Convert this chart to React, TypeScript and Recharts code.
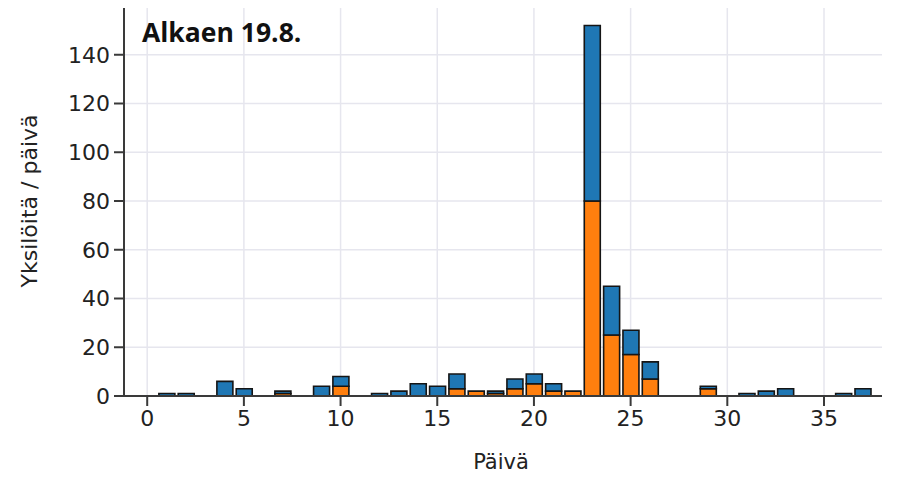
import { Bar, BarChart, CartesianGrid, XAxis, YAxis } from 'recharts';

// Days since the start date and the two stacked counts per day.
const days = [
  1, 2, 4, 5, 7, 9, 10, 12, 13, 14, 15, 16, 17, 18, 19, 20, 21, 22, 23, 24, 25,
  26, 29, 31, 32, 33, 36, 37,
];
const orangeCounts = [
  0, 0, 0, 0, 1, 0, 4, 0, 0, 0, 0, 3, 2, 1, 3, 5, 2, 2, 80, 25, 17, 7, 3, 0,
  0, 0, 0, 0,
];
const blueCounts = [
  1, 1, 6, 3, 1, 4, 4, 1, 2, 5, 4, 6, 0, 1, 4, 4, 3, 0, 72, 20, 10, 7, 1, 1,
  2, 3, 1, 3,
];
const xTicks = [0, 5, 10, 15, 20, 25, 30, 35];
const yTicks = [0, 20, 40, 60, 80, 100, 120, 140];
const xDomain: [number, number] = [-1.2, 38];
const yDomain: [number, number] = [0, 160];

const chartData = days.map((day, i) => ({
  day,
  orange: orangeCounts[i],
  blue: blueCounts[i],
}));

const font = 'DejaVu Sans, sans-serif';
const tickStyle = { fill: '#222', fontSize: 22, fontFamily: font };
const spine = { stroke: '#3a3a3a', strokeWidth: 2 };

type Box = { x: number; y: number; width: number; height: number };

// grid lines only at the tick values (the default grid adds one at the right edge)
function gridX({ offset }: any) {
  const [d0, d1] = xDomain;
  return xTicks.map(t => offset.left + ((t - d0) / (d1 - d0)) * offset.width);
}
function gridY({ offset }: any) {
  const [d0, d1] = yDomain;
  return yTicks.map(t => offset.top + ((d1 - t) / (d1 - d0)) * offset.height);
}

function YLabel({ viewBox }: { viewBox?: Box }) {
  if (!viewBox) return null;
  const cx = 29;
  const cy = viewBox.y + viewBox.height / 2;
  return (
    <text
      x={cx}
      y={cy}
      transform={`rotate(-90, ${cx}, ${cy})`}
      textAnchor="middle"
      dominantBaseline="central"
      fill="#222"
      fontSize={22}
      fontFamily={font}
    >
      Yksilöitä / päivä
    </text>
  );
}

function XLabel({ viewBox }: { viewBox?: Box }) {
  if (!viewBox) return null;
  // centred under the axis, below the tick labels
  const cx = viewBox.x + viewBox.width / 2 - 2;
  return (
    <text
      x={cx}
      y={viewBox.y + 66}
      textAnchor="middle"
      dominantBaseline="central"
      fill="#222"
      fontSize={21}
      fontFamily={font}
    >
      Päivä
    </text>
  );
}

export default function App() {
  return (
    <div style={{ position: 'relative', width: 898, height: 479, margin: -8, background: '#fff' }}>
      <BarChart
        width={898}
        height={479}
        data={chartData}
        margin={{ top: 6, right: 16, left: 0, bottom: 0 }}
      >
        <CartesianGrid
          stroke="#e6e6ee"
          strokeWidth={1.5}
          verticalCoordinatesGenerator={gridX}
          horizontalCoordinatesGenerator={gridY}
        />
        <XAxis
          dataKey="day"
          type="number"
          domain={xDomain}
          allowDataOverflow
          ticks={xTicks}
          height={83}
          tick={tickStyle}
          tickSize={10}
          tickMargin={4}
          axisLine={spine}
          tickLine={spine}
          label={<XLabel />}
        />
        <YAxis
          domain={yDomain}
          ticks={yTicks}
          width={124}
          tick={tickStyle}
          tickSize={10}
          tickMargin={4}
          axisLine={spine}
          tickLine={spine}
          label={<YLabel />}
        />
        <Bar
          dataKey="orange"
          stackId="count"
          fill="#ff7f0e"
          stroke="#151515"
          strokeWidth={1.6}
          barSize={16}
          isAnimationActive={false}
        />
        <Bar
          dataKey="blue"
          stackId="count"
          fill="#1f77b4"
          stroke="#151515"
          strokeWidth={1.6}
          barSize={16}
          isAnimationActive={false}
        />
      </BarChart>
      <div
        style={{
          position: 'absolute',
          left: 142,
          top: 14,
          fontFamily: '"Open Sans", sans-serif',
          fontWeight: 700,
          fontSize: 26.5,
          lineHeight: '36px',
          color: '#111',
        }}
      >
        Alkaen 19.8.
      </div>
    </div>
  );
}
